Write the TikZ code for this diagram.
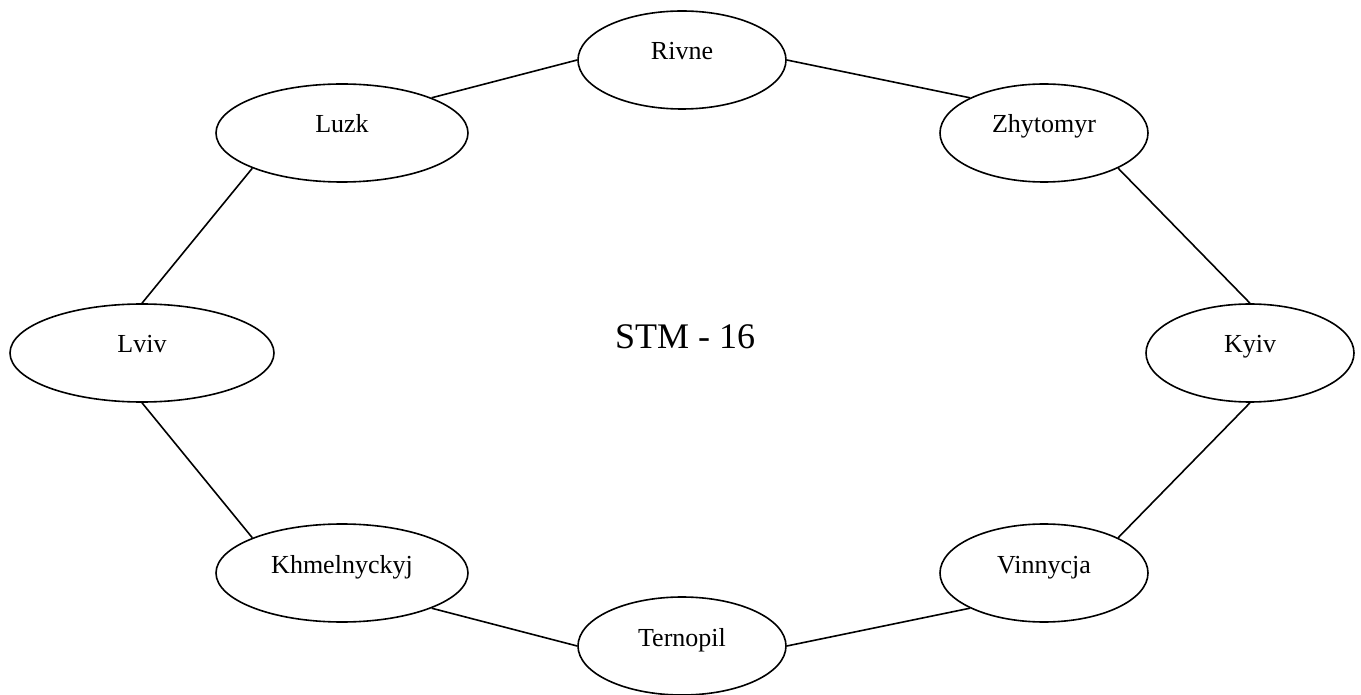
\documentclass[tikz,border=0pt]{standalone}
\usepackage{fontspec}
\setmainfont{Liberation Serif}
\usetikzlibrary{shapes.geometric}
\begin{document}
\begin{tikzpicture}[x=0.75pt,y=-0.75pt,
  city/.style={draw,ellipse,line width=1.2pt,inner sep=0pt,
    minimum height=73.5pt,text height=8pt,text depth=8pt,font=\fontsize{19.5}{22}\selectfont},
  narrow/.style={city,minimum width=156pt},
  wide/.style={city,minimum width=189pt},
  wider/.style={city,minimum width=198pt},
  link/.style={line width=1.2pt}]
\useasboundingbox (0,0) rectangle (1361,695);
\fill[white] (0,0) rectangle (1361,695);
% ring of cities
\node[narrow] (rivne)  at (682,60)   {Rivne};
\node[narrow] (zhyt)   at (1044,133) {Zhytomyr};
\node[narrow] (kyiv)   at (1250,353) {Kyiv};
\node[narrow] (vinn)   at (1044,573) {Vinnycja};
\node[narrow] (tern)   at (682,646)  {Ternopil};
\node[wide]   (khm)    at (342,573)  {Khmelnyckyj};
\node[wider]  (lviv)   at (142,353)  {Lviv};
\node[wide]   (luzk)   at (342,133)  {Luzk};
% title in the middle
\node[anchor=base,font=\fontsize{27}{30}\selectfont] (title) at (685,349) {STM - 16};
% connections
\draw[link] (luzk.north east) -- (rivne.west);
\draw[link] (rivne.east) -- (zhyt.north west);
\draw[link] (zhyt.south east) -- (kyiv.north);
\draw[link] (kyiv.south) -- (vinn.north east);
\draw[link] (vinn.south west) -- (tern.east);
\draw[link] (tern.west) -- (khm.south east);
\draw[link] (khm.north west) -- (lviv.south);
\draw[link] (lviv.north) -- (luzk.south west);
\end{tikzpicture}
\end{document}
